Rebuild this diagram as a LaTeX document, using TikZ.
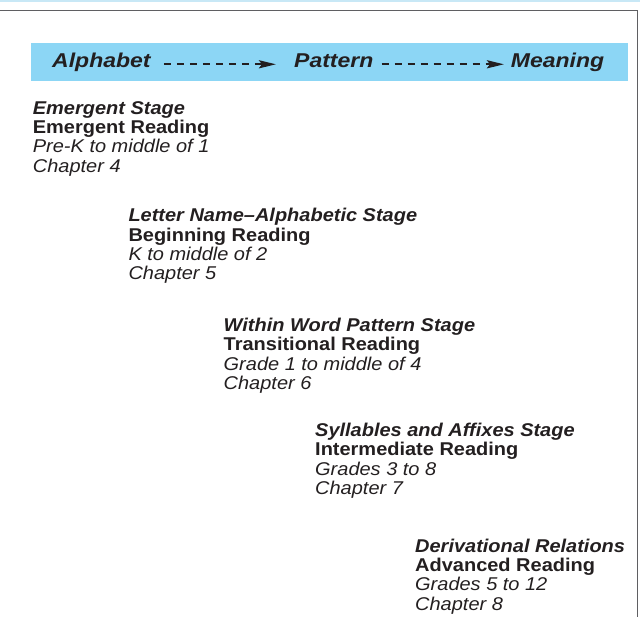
\documentclass[tikz,border=0pt]{standalone}
\usepackage{fontspec}
\setmainfont{Liberation Sans}[FakeStretch=1.08]
\newfontfamily\bannerfont{Liberation Sans}[FakeStretch=1.15]
\usetikzlibrary{arrows.meta}
\definecolor{bannerblue}{RGB}{140,214,245}
\definecolor{stripblue}{RGB}{200,232,246}
\definecolor{ink}{RGB}{35,31,32}
\definecolor{rulegray}{RGB}{95,95,98}

\begin{document}
\begin{tikzpicture}[
    x=1pt, y=-1pt,
    spelling/.style={anchor=base west, inner sep=0pt, text=ink, font=\bannerfont\fontsize{20}{23}\selectfont\bfseries\itshape},
    stage/.style={anchor=base west, inner sep=0pt, align=left, text=ink, font=\fontsize{18.5}{19.4}\selectfont},
    flow/.style={ink, line width=2.4pt, dash pattern=on 7pt off 6pt, -{Stealth[length=17pt,width=8pt,inset=3pt]}},
]
\useasboundingbox (0,0) rectangle (640,617);

% Rahmen
\fill[stripblue] (0,0) rectangle (640,2);
\draw[rulegray, line width=1pt] (0,10.7) -- (637.7,10.7) -- (637.7,617);

% Band mit den drei Ebenen
\fill[bannerblue] (31,43.3) rectangle (627.7,80.7);
\node[spelling] (alpha) at (52,67.5) {Alphabet};
\node[spelling] (pattern) at (294,67.5) {Pattern};
\node[spelling] (meaning) at (510.7,67.5) {Meaning};

\draw[flow, shorten <=13pt, shorten >=18pt] ([yshift=3.2pt]alpha.base east) -- ([yshift=3.2pt]pattern.base west);
\draw[flow, shorten <=8pt, shorten >=6.7pt] ([yshift=3.2pt]pattern.base east) -- ([yshift=3.2pt]meaning.base west);

% Stufen (Grundlinie der letzten Zeile)
\node[stage] (emergent) at (32.7,172.3) {\textbf{\textit{Emergent Stage}}\\ \textbf{Emergent Reading}\\ \textit{Pre-K to middle of 1}\\ \textit{Chapter 4}};
\node[stage] (lettername) at (128.3,280) {\textbf{\textit{Letter Name--Alphabetic Stage}}\\ \textbf{Beginning Reading}\\ \textit{K to middle of 2}\\ \textit{Chapter 5}};
\node[stage] (withinword) at (223.5,389.5) {\textbf{\textit{Within Word Pattern Stage}}\\ \textbf{Transitional Reading}\\ \textit{Grade 1 to middle of 4}\\ \textit{Chapter 6}};
\node[stage] (syllables) at (315,494.5) {\textbf{\textit{Syllables and Affixes Stage}}\\ \textbf{Intermediate Reading}\\ \textit{Grades 3 to 8}\\ \textit{Chapter 7}};
\node[stage] (derivational) at (415,610.3) {\textbf{\textit{Derivational Relations}}\\ \textbf{Advanced Reading}\\ \textit{Grades 5 to 12}\\ \textit{Chapter 8}};

\end{tikzpicture}
\end{document}
